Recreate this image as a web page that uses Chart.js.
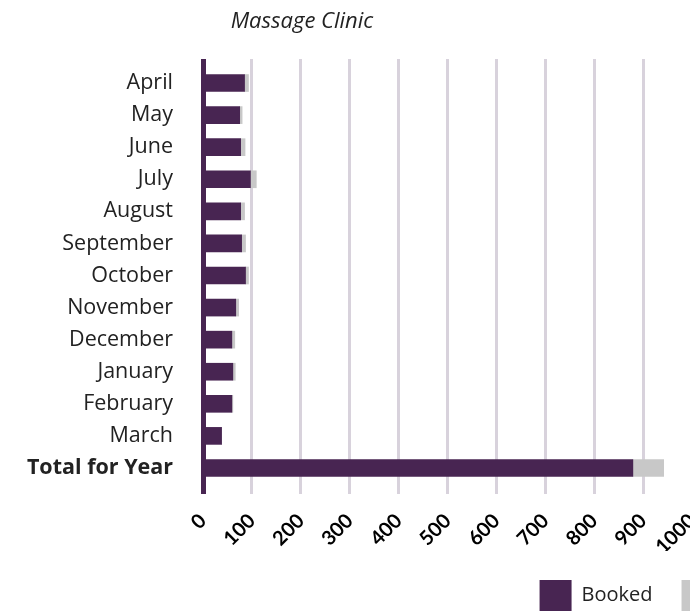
<!DOCTYPE html>
<html>
<head>
<meta charset="utf-8">
<script src="https://cdn.jsdelivr.net/npm/chart.js@4.4.0/dist/chart.umd.min.js"></script>
<style>
html, body { margin: 0; padding: 0; background: #fff; overflow: hidden; }
#wrap { width: 690px; height: 611px; overflow: hidden; }
</style>
</head>
<body>
<div id="wrap"><canvas id="chart" width="836" height="611"></canvas></div>
<script>
const chartTitle = 'Massage Clinic';
const months = ['April', 'May', 'June', 'July', 'August', 'September', 'October',
    'November', 'December', 'January', 'February', 'March', 'Total for Year'];
const seriesNames = ['Booked', 'Available'];
const booked = [85, 75, 77, 97, 77, 79, 87, 67, 59, 61, 59, 38, 879];
const available = [8, 5, 9, 12, 8, 8, 6, 6, 6, 5, 2, 0, 63];
const xMax = 1229;
const xStep = 100;

const PURPLE = '#482552';
const GREY = '#c8c8c8';
const GRID = '#d8d2dc';

// title sits over the left part of the plot, not centred on the canvas
const titlePlugin = {
    id: 'offsetTitle',
    afterDraw(chart) {
        const c = chart.ctx;
        c.save();
        c.font = 'italic 22px "Open Sans"';
        c.fillStyle = '#222';
        c.textAlign = 'center';
        c.textBaseline = 'middle';
        c.fillText(chartTitle, 302, 22);
        c.restore();
    }
};

const gridColor = (ctx) => (ctx.tick && ctx.tick.value === 0 ? PURPLE : GRID);
const gridWidth = (ctx) => (ctx.tick && ctx.tick.value === 0 ? 5 : 3);

new Chart(document.getElementById('chart'), {
    type: 'bar',
    data: {
        labels: months,
        datasets: [
            { label: seriesNames[0], data: booked, backgroundColor: PURPLE },
            { label: seriesNames[1], data: available, backgroundColor: GREY }
        ]
    },
    options: {
        indexAxis: 'y',
        responsive: false,
        animation: false,
        barThickness: 17,
        layout: { padding: { top: 59, left: 0, right: 0, bottom: -10 } },
        scales: {
            x: {
                stacked: true,
                min: 0,
                max: xMax,
                afterFit: (scale) => { scale.height = 67; },
                ticks: {
                    stepSize: xStep,
                    minRotation: 45,
                    maxRotation: 45,
                    padding: 15,
                    color: '#000',
                    font: { family: 'Lato', size: 20, weight: 'bold' },
                    callback: (v) => String(v)
                },
                grid: { color: gridColor, lineWidth: gridWidth, tickLength: 10 },
                border: { display: false }
            },
            x2: {
                position: 'top',
                axis: 'x',
                min: 0,
                max: xMax,
                ticks: { display: false, stepSize: xStep },
                grid: { drawOnChartArea: false, color: gridColor, lineWidth: gridWidth, tickLength: 8 },
                border: { display: false }
            },
            y: {
                stacked: true,
                grid: { display: false, drawTicks: false },
                border: { display: false },
                afterFit: (scale) => { scale.width = 203; },
                ticks: {
                    padding: 30,
                    color: '#222',
                    font: (ctx) => ({
                        family: '"Open Sans"',
                        size: 21.5,
                        weight: ctx.index === months.length - 1 ? 'bold' : 'normal'
                    })
                }
            }
        },
        plugins: {
            title: { display: false },
            tooltip: { enabled: false },
            legend: {
                position: 'bottom',
                align: 'end',
                labels: {
                    boxWidth: 32,
                    boxHeight: 31,
                    padding: 29,
                    color: '#222',
                    font: { family: '"Open Sans"', size: 20 }
                }
            }
        }
    },
    plugins: [titlePlugin]
});
</script>
</body>
</html>
